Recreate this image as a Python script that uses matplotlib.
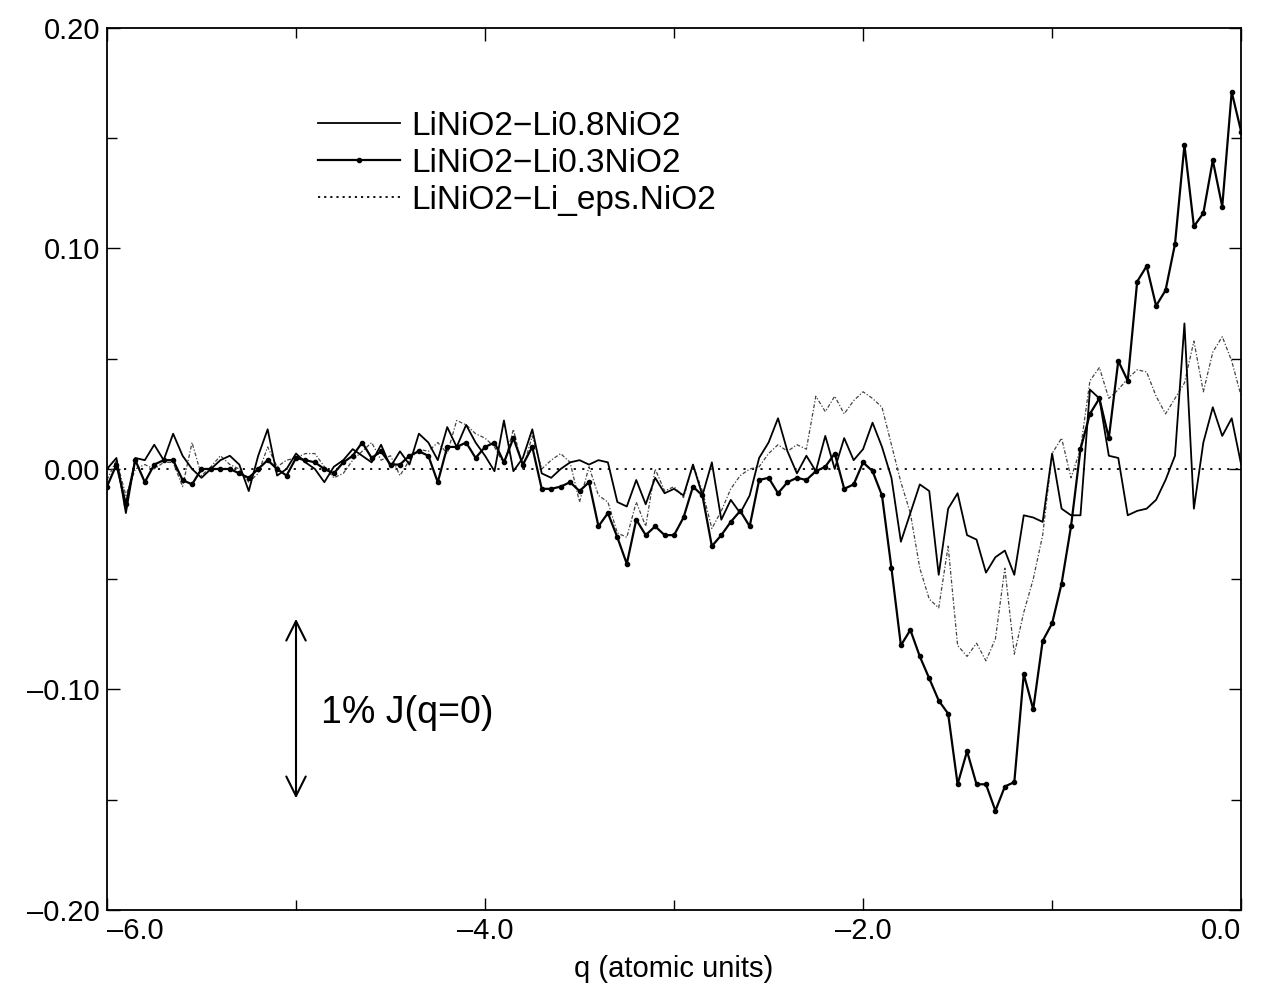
import numpy as np
import matplotlib
matplotlib.use("Agg")
import matplotlib.pyplot as plt
from matplotlib.lines import Line2D
from matplotlib.ticker import MultipleLocator, FixedLocator, FuncFormatter

plt.rcParams['font.family'] = ['Liberation Sans', 'DejaVu Sans']

# q grid, 0.05 spacing
q = np.linspace(-6.0, 0.0, 121)

# LiNiO2-Li0.8NiO2 (plain solid)
li08 = [0.0, 0.005, -0.02, 0.005, 0.004, 0.011, 0.004, 0.016, 0.006, 0.0,
        -0.004, 0.0, 0.004, 0.006, 0.002, -0.01, 0.006, 0.018, -0.003, 0.0,
        0.007, 0.003, 0.0, -0.006, 0.001, 0.004, 0.009, 0.006, 0.003, 0.011,
        0.001, 0.008, 0.002, 0.016, 0.012, 0.004, 0.019, 0.01, 0.02, 0.012,
        0.006, -0.001, 0.022, -0.001, 0.005, 0.018, -0.002, -0.004, 0.0, 0.003,
        0.004, 0.002, 0.004, 0.003, -0.015, -0.017, -0.005, -0.016, -0.004, -0.011,
        -0.009, -0.012, 0.002, -0.012, 0.003, -0.023, -0.014, -0.02, -0.012, 0.005,
        0.012, 0.023, 0.008, -0.002, 0.006, -0.001, 0.015, 0.0, 0.014, 0.004,
        0.009, 0.021, 0.01, -0.004, -0.033, -0.02, -0.007, -0.01, -0.048, -0.018,
        -0.011, -0.03, -0.032, -0.047, -0.04, -0.037, -0.048, -0.021, -0.022, -0.024,
        0.007, -0.018, -0.021, -0.021, 0.036, 0.032, 0.006, 0.005, -0.021, -0.019,
        -0.018, -0.014, -0.005, 0.006, 0.066, -0.018, 0.012, 0.028, 0.015, 0.023,
        0.002]

# LiNiO2-Li0.3NiO2 (solid with dots)
li03 = [-0.008, 0.002, -0.016, 0.004, -0.006, 0.002, 0.004, 0.004, -0.005, -0.007,
        0.0, 0.0, 0.0, 0.0, -0.002, -0.004, 0.0, 0.004, 0.0, -0.003,
        0.005, 0.004, 0.003, 0.0, -0.002, 0.003, 0.006, 0.012, 0.005, 0.008,
        0.002, 0.002, 0.006, 0.008, 0.006, -0.006, 0.01, 0.01, 0.012, 0.005,
        0.01, 0.012, 0.003, 0.014, 0.002, 0.01, -0.009, -0.009, -0.008, -0.006,
        -0.01, -0.006, -0.026, -0.02, -0.031, -0.043, -0.023, -0.03, -0.026, -0.03,
        -0.03, -0.022, -0.008, -0.012, -0.035, -0.03, -0.024, -0.019, -0.026, -0.005,
        -0.004, -0.011, -0.006, -0.004, -0.005, -0.001, 0.001, 0.007, -0.009, -0.007,
        0.003, -0.001, -0.012, -0.045, -0.08, -0.073, -0.085, -0.095, -0.105, -0.111,
        -0.143, -0.128, -0.143, -0.143, -0.155, -0.144, -0.142, -0.093, -0.109, -0.078,
        -0.07, -0.052, -0.026, 0.009, 0.025, 0.032, 0.014, 0.049, 0.04, 0.085,
        0.092, 0.074, 0.081, 0.102, 0.147, 0.11, 0.116, 0.14, 0.119, 0.171,
        0.153]

# LiNiO2-Li_eps.NiO2 (thin dotted)
lieps = [-0.005, 0.004, -0.012, 0.0, 0.002, 0.0, 0.003, 0.003, -0.008, 0.012,
         -0.003, 0.001, 0.006, 0.002, 0.0, -0.006, -0.002, 0.01, 0.001, 0.004,
         0.005, 0.007, 0.007, 0.001, -0.004, -0.002, 0.004, 0.008, 0.012, 0.004,
         0.006, -0.003, 0.004, 0.009, 0.008, 0.012, 0.007, 0.022, 0.02, 0.016,
         0.014, 0.01, 0.002, 0.018, 0.0, 0.015, 0.0, 0.004, 0.007, 0.003,
         -0.015, 0.001, -0.012, -0.015, -0.029, -0.031, -0.015, -0.026, 0.0, -0.01,
         -0.008, -0.013, 0.002, -0.01, -0.027, -0.019, -0.009, -0.003, 0.0, 0.001,
         0.007, 0.011, 0.008, 0.011, 0.009, 0.033, 0.026, 0.033, 0.025, 0.031,
         0.035, 0.032, 0.028, 0.011, -0.006, -0.02, -0.045, -0.059, -0.063, -0.035,
         -0.08, -0.085, -0.079, -0.087, -0.077, -0.045, -0.084, -0.065, -0.05, -0.03,
         0.007, 0.014, -0.004, 0.009, 0.04, 0.046, 0.032, 0.036, 0.041, 0.045,
         0.044, 0.033, 0.025, 0.032, 0.039, 0.058, 0.035, 0.053, 0.06, 0.049,
         0.033]

labels = ['LiNiO2\u2212Li0.8NiO2', 'LiNiO2\u2212Li0.3NiO2', 'LiNiO2\u2212Li_eps.NiO2']
xticks = [-6.0, -4.0, -2.0, 0.0]


def fmt_x(v, p):
    return ('%.1f' % v).replace('-', '\u2013')


def fmt_y(v, p):
    return ('%.2f' % v).replace('-', '\u2013')


fig = plt.figure(figsize=(12.63, 9.89), dpi=100)
ax = fig.add_axes([0.0847, 0.0799, 0.898, 0.8918])

ax.axhline(0.0, color='black', lw=1.3, ls=(0, (1.2, 3.5)))
ax.plot(q, lieps, color='#444444', lw=0.9, ls=(0, (3, 1.5, 1, 1.5)))
ax.plot(q, li08, color='black', lw=1.3)
ax.plot(q, li03, color='black', lw=1.6, marker='o', ms=3)

ax.set_xlim(-6.0, 0.0)
ax.set_ylim(-0.2, 0.2)
ax.xaxis.set_major_locator(FixedLocator(xticks))
ax.xaxis.set_minor_locator(MultipleLocator(1.0))
ax.yaxis.set_major_locator(MultipleLocator(0.1))
ax.yaxis.set_minor_locator(MultipleLocator(0.05))
ax.xaxis.set_major_formatter(FuncFormatter(fmt_x))
ax.yaxis.set_major_formatter(FuncFormatter(fmt_y))
ax.tick_params(which='both', direction='in', top=True, right=True, width=1.0,
               labelsize=21)
ax.tick_params(which='major', length=9, pad=5)
ax.tick_params(which='minor', length=7)
for s in ax.spines.values():
    s.set_linewidth(1.3)

ax.set_xlabel('q (atomic units)', fontsize=21, labelpad=7)

handles = [Line2D([], [], color='black', lw=1.3),
           Line2D([], [], color='black', lw=1.6, marker='o', ms=3, markevery=[0, -1]),
           Line2D([], [], color='black', lw=1.3, ls=(0, (1.2, 2.2)))]
ax.legend(handles, labels, loc='upper left', bbox_to_anchor=(0.186, 0.906),
          frameon=False, fontsize=24, handlelength=2.45, handletextpad=0.35,
          labelspacing=0.18, borderpad=0, borderaxespad=0)

# 1% J(q=0) scale bar
ax.annotate('', xy=(-5.0, -0.0667), xytext=(-5.0, -0.1506),
            arrowprops=dict(arrowstyle='<->', lw=1.5, color='black',
                            mutation_scale=35))
ax.text(-4.87, -0.1105, '1% J(q=0)', fontsize=27, va='center', ha='left')

# end labels pulled inside like the original
fig.canvas.draw()
for lbl in ax.get_xticklabels():
    t = lbl.get_text()
    if t == fmt_x(xticks[0], None):
        lbl.set_horizontalalignment('left')
    elif t == fmt_x(xticks[-1], None):
        lbl.set_horizontalalignment('right')
    else:
        lbl.set_horizontalalignment('center')

fig.savefig('out.png', dpi=100)
